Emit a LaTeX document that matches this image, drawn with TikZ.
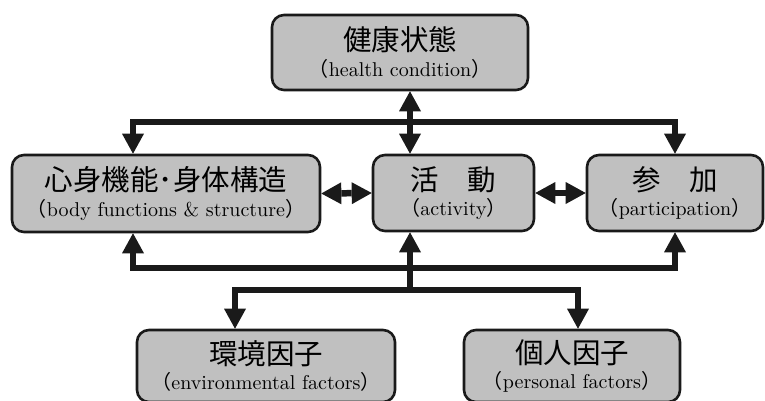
\documentclass[tikz,border=0pt]{standalone}
\usepackage{fontspec}
\setmainfont{lmroman10-regular}[Extension=.otf]
\newfontfamily\cjkfont{Noto Sans CJK JP}
\usetikzlibrary{arrows.meta}
\definecolor{boxfill}{HTML}{C0C0C0}
\definecolor{ink}{HTML}{1A1A1A}
\newcommand\jptext[1]{{\cjkfont\fontsize{28.5}{25.5}\selectfont #1}}
\newcommand\entext[1]{{\cjkfont （}#1{\cjkfont ）}}
\tikzset{
  box/.style={draw=ink, fill=boxfill, line width=2.6pt, rounded corners=12pt,
    align=center, inner sep=0pt, font=\fontsize{20}{25.5}\selectfont},
  conn/.style={draw=ink, line width=6.5pt, line join=miter},
  >={Triangle[width=22pt,length=20pt,line width=0pt]}
}
\begin{document}
\begin{tikzpicture}[x=1pt,y=-1pt]
\useasboundingbox (0,0) rectangle (765,401);
\node[box, minimum width=256pt, minimum height=75pt] (health) at (400,52.5)
  {\jptext{健康状態}\\\entext{health condition}};
\node[box, minimum width=308pt, minimum height=77pt] (body) at (166,193.5)
  {\jptext{心身機能･身体構造}\\\entext{body functions \& structure}};
\node[box, minimum width=161pt, minimum height=76pt] (act) at (453.5,193)
  {\jptext{活　動}\\\entext{activity}};
\node[box, minimum width=176pt, minimum height=76pt] (part) at (675,193)
  {\jptext{参　加}\\\entext{participation}};
\node[box, minimum width=258pt, minimum height=72pt] (env) at (266,366)
  {\jptext{環境因子}\\\entext{environmental factors}};
\node[box, minimum width=216pt, minimum height=72pt] (pers) at (572,366)
  {\jptext{個人因子}\\\entext{personal factors}};
\coordinate (tj) at (410,122);
\coordinate (tl) at (133,122);
\coordinate (bj) at (410,268);
\coordinate (bl) at (133,268);
\coordinate (lj) at (410,290);
\coordinate (ll) at (235,290);
\coordinate (lr) at (578,290);
\draw[conn,<->] (tj |- health.south) -- (tj |- act.north);
\draw[conn,->] (tj) -- (tl) -- (tl |- body.north);
\draw[conn,->] (tj) -| (part.north);
\draw[conn,->] (lj) -- (lj |- act.south);
\draw[conn,->] (bj) -- (bl) -- (bl |- body.south);
\draw[conn,->] (bj) -| (part.south);
\draw[conn,->] (lj) -- (ll) -- (ll |- env.north);
\draw[conn,->] (lj) -- (lr) -- (lr |- pers.north);
\draw[conn,<->] (body.east) -- (act.west);
\draw[conn,<->] (act.east) -- (part.west);
\end{tikzpicture}
\end{document}
